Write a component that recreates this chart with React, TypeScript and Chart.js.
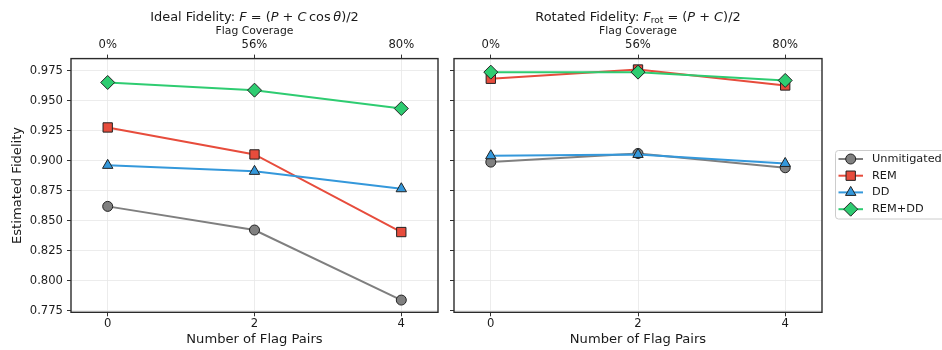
import React, { useEffect, useRef } from 'react';
import { Chart, registerables } from 'chart.js';

Chart.register(...registerables);

// ---------------- data ----------------
const flagPairs = [0, 2, 4];
const coverageLabels = ['0%', '56%', '80%'];
const yTicks = [0.775, 0.8, 0.825, 0.85, 0.875, 0.9, 0.925, 0.95, 0.975];
const yMin = 0.7737;
const yMax = 0.9852;
const xMin = -0.5;
const xMax = 4.5;

const seriesNames = ['Unmitigated', 'REM', 'DD', 'REM+DD'];

const idealUnmitigated = [0.862, 0.8423, 0.7839];
const idealREM = [0.9278, 0.9053, 0.8406];
const idealDD = [0.8962, 0.8912, 0.8767];
const idealREMDD = [0.9653, 0.9589, 0.9436];

const rotUnmitigated = [0.8989, 0.9061, 0.8942];
const rotREM = [0.9684, 0.9761, 0.9628];
const rotDD = [0.9042, 0.9053, 0.8978];
const rotREMDD = [0.9739, 0.9739, 0.967];

// ---------------- styles ----------------
const FONT = '"DejaVu Sans", "Liberation Sans", sans-serif';
const lineColors = ['#7f7f7f', '#e74c3c', '#3498db', '#2ecc71'];
const markerFill = ['#808080', '#e74c3c', '#3498db', '#2ecc71'];
const markerStyles = ['circle', 'rect', 'triangle', 'rectRot'];
const markerRadius = [5, 6.6, 6, 7];
const EDGE = '#222222';
const TEXT = '#1a1a1a';

type Seg = { t: string; italic?: boolean; scale?: number; dy?: number };

function drawRich(ctx: CanvasRenderingContext2D, segs: Seg[], cx: number, baseline: number, size: number) {
  const fonts = segs.map((s) => `${s.italic ? 'italic ' : ''}${(s.scale ?? 1) * size}px ${FONT}`);
  let total = 0;
  segs.forEach((s, i) => {
    ctx.font = fonts[i];
    total += ctx.measureText(s.t).width;
  });
  let x = cx - total / 2;
  ctx.textAlign = 'left';
  ctx.textBaseline = 'alphabetic';
  segs.forEach((s, i) => {
    ctx.font = fonts[i];
    ctx.fillText(s.t, x, baseline + (s.dy ?? 0));
    x += ctx.measureText(s.t).width;
  });
}

function drawMarker(ctx: CanvasRenderingContext2D, style: string, x: number, y: number, r: number, fill: string) {
  ctx.beginPath();
  if (style === 'circle') {
    ctx.arc(x, y, r, 0, Math.PI * 2);
  } else if (style === 'rect') {
    const h = r * Math.SQRT1_2;
    ctx.rect(x - h, y - h, 2 * h, 2 * h);
  } else if (style === 'triangle') {
    for (let k = 0; k < 3; k++) {
      const a = (k * 2 * Math.PI) / 3;
      const px = x + Math.sin(a) * r;
      const py = y - Math.cos(a) * r;
      if (k === 0) ctx.moveTo(px, py);
      else ctx.lineTo(px, py);
    }
    ctx.closePath();
  } else {
    ctx.moveTo(x, y - r);
    ctx.lineTo(x + r, y);
    ctx.lineTo(x, y + r);
    ctx.lineTo(x - r, y);
    ctx.closePath();
  }
  ctx.fillStyle = fill;
  ctx.fill();
  ctx.lineWidth = 1;
  ctx.strokeStyle = EDGE;
  ctx.stroke();
}

function buildDatasets(series: number[][]) {
  return series.map((vals, i) => ({
    label: seriesNames[i],
    data: flagPairs.map((x, j) => ({ x, y: vals[j] })),
    xAxisID: 'x',
    yAxisID: 'y',
    borderColor: lineColors[i],
    backgroundColor: markerFill[i],
    borderWidth: 2,
    pointStyle: markerStyles[i],
    pointRadius: markerRadius[i],
    pointBackgroundColor: markerFill[i],
    pointBorderColor: EDGE,
    pointBorderWidth: 1,
    tension: 0,
    clip: false as any,
    order: series.length - 1 - i,
  }));
}

function makeConfig(series: number[][], isLeft: boolean, title: Seg[]) {
  const setTicks = (vals: number[]) => (s: any) => {
    s.ticks = vals.map((v) => ({ value: v }));
  };
  const gridBase = {
    color: '#e7e7e7',
    lineWidth: 0.8,
    tickColor: '#333333',
    tickLength: 4,
    tickWidth: 1,
  };
  const tickFont = { family: FONT, size: 11.6 };

  const decor = {
    id: 'decor',
    afterDraw(chart: any) {
      const ctx: CanvasRenderingContext2D = chart.ctx;
      const a = chart.chartArea;
      const cx = (a.left + a.right) / 2;
      ctx.save();
      // frame
      ctx.strokeStyle = '#2b2b2b';
      ctx.lineWidth = 1.4;
      ctx.strokeRect(a.left, a.top, a.right - a.left, a.bottom - a.top);
      ctx.fillStyle = TEXT;
      // title
      drawRich(ctx, title, cx, 20.8, 12.9);
      // Flag Coverage label
      ctx.font = `10.8px ${FONT}`;
      ctx.textAlign = 'center';
      ctx.textBaseline = 'middle';
      ctx.fillText('Flag Coverage', cx, 31);
      // x label
      ctx.font = `13.1px ${FONT}`;
      ctx.fillText('Number of Flag Pairs', cx, 340);
      if (isLeft) {
        ctx.save();
        ctx.translate(17.5, (a.top + a.bottom) / 2);
        ctx.rotate(-Math.PI / 2);
        ctx.fillText('Estimated Fidelity', 0, 0);
        ctx.restore();
      } else {
        // legend (canvas offset 446)
        const off = 446;
        const lx = 835.5 - off;
        const ly = 150.5;
        const lw = 120;
        const lh = 68.5;
        ctx.beginPath();
        const r = 3;
        ctx.moveTo(lx + r, ly);
        ctx.lineTo(lx + lw - r, ly);
        ctx.arcTo(lx + lw, ly, lx + lw, ly + r, r);
        ctx.lineTo(lx + lw, ly + lh - r);
        ctx.arcTo(lx + lw, ly + lh, lx + lw - r, ly + lh, r);
        ctx.lineTo(lx + r, ly + lh);
        ctx.arcTo(lx, ly + lh, lx, ly + lh - r, r);
        ctx.lineTo(lx, ly + r);
        ctx.arcTo(lx, ly, lx + r, ly, r);
        ctx.closePath();
        ctx.fillStyle = 'rgba(255,255,255,0.8)';
        ctx.fill();
        ctx.strokeStyle = '#cccccc';
        ctx.lineWidth = 1;
        ctx.stroke();
        const rowY = [159, 175.7, 192.4, 209.2];
        seriesNames.forEach((name, i) => {
          const y = rowY[i];
          ctx.beginPath();
          ctx.moveTo(838.5 - off, y);
          ctx.lineTo(863 - off, y);
          ctx.strokeStyle = lineColors[i];
          ctx.lineWidth = 2;
          ctx.stroke();
          drawMarker(ctx, markerStyles[i], 850.7 - off, y, markerRadius[i], markerFill[i]);
          ctx.fillStyle = TEXT;
          ctx.font = `11.3px ${FONT}`;
          ctx.textAlign = 'left';
          ctx.textBaseline = 'middle';
          ctx.fillText(name, 872 - off, y);
        });
      }
      ctx.restore();
    },
  };

  return {
    type: 'line' as const,
    data: { datasets: buildDatasets(series) as any },
    options: {
      animation: false as const,
      responsive: false,
      maintainAspectRatio: false,
      layout: { padding: { left: 0, right: isLeft ? 7.5 : 120, top: 0, bottom: 0 } },
      plugins: {
        legend: { display: false },
        tooltip: { enabled: false },
        title: { display: false },
      },
      scales: {
        x: {
          type: 'linear' as const,
          position: 'bottom' as const,
          min: xMin,
          max: xMax,
          afterBuildTicks: setTicks(flagPairs),
          afterFit: (s: any) => {
            s.height = 37.7;
          },
          grid: { ...gridBase, drawOnChartArea: true },
          border: { display: false },
          ticks: {
            color: TEXT,
            font: tickFont,
            padding: 1,
            maxRotation: 0,
            autoSkip: false,
            callback: (v: any) => String(v),
          },
        },
        x2: {
          type: 'linear' as const,
          position: 'top' as const,
          min: xMin,
          max: xMax,
          afterBuildTicks: setTicks(flagPairs),
          afterFit: (s: any) => {
            s.height = 58.6;
          },
          grid: { ...gridBase, drawOnChartArea: false },
          border: { display: false },
          ticks: {
            color: TEXT,
            font: tickFont,
            padding: 3,
            maxRotation: 0,
            autoSkip: false,
            callback: (_v: any, i: number) => coverageLabels[i],
          },
        },
        y: {
          type: 'linear' as const,
          position: 'left' as const,
          min: yMin,
          max: yMax,
          afterBuildTicks: setTicks(yTicks),
          afterFit: (s: any) => {
            s.width = isLeft ? 71 : 8;
          },
          grid: { ...gridBase, drawOnChartArea: true },
          border: { display: false },
          ticks: {
            display: isLeft,
            color: TEXT,
            font: tickFont,
            padding: 4,
            autoSkip: false,
            callback: (v: any) => Number(v).toFixed(3),
          },
        },
      },
    },
    plugins: [decor],
  };
}

const leftTitle: Seg[] = [
  { t: 'Ideal Fidelity: ' },
  { t: 'F', italic: true },
  { t: ' = (' },
  { t: 'P', italic: true },
  { t: ' + ' },
  { t: 'C', italic: true },
  { t: '\u2009cos\u2009' },
  { t: '\u03b8', italic: true },
  { t: ')/2' },
];

const rightTitle: Seg[] = [
  { t: 'Rotated Fidelity: ' },
  { t: 'F', italic: true },
  { t: 'rot', scale: 0.7, dy: 2.5 },
  { t: ' = (' },
  { t: 'P', italic: true },
  { t: ' + ' },
  { t: 'C', italic: true },
  { t: ')/2' },
];

export default function App() {
  const leftRef = useRef<HTMLCanvasElement>(null);
  const rightRef = useRef<HTMLCanvasElement>(null);

  useEffect(() => {
    const c1 = new Chart(
      leftRef.current as HTMLCanvasElement,
      makeConfig([idealUnmitigated, idealREM, idealDD, idealREMDD], true, leftTitle) as any
    );
    const c2 = new Chart(
      rightRef.current as HTMLCanvasElement,
      makeConfig([rotUnmitigated, rotREM, rotDD, rotREMDD], false, rightTitle) as any
    );
    return () => {
      c1.destroy();
      c2.destroy();
    };
  }, []);

  return (
    <div style={{ position: 'absolute', left: 0, top: 0, width: 942, height: 350, background: '#ffffff' }}>
      <canvas
        ref={leftRef}
        width={446}
        height={350}
        style={{ position: 'absolute', left: 0, top: 0, width: 446, height: 350 }}
      />
      <canvas
        ref={rightRef}
        width={496}
        height={350}
        style={{ position: 'absolute', left: 446, top: 0, width: 496, height: 350 }}
      />
    </div>
  );
}
